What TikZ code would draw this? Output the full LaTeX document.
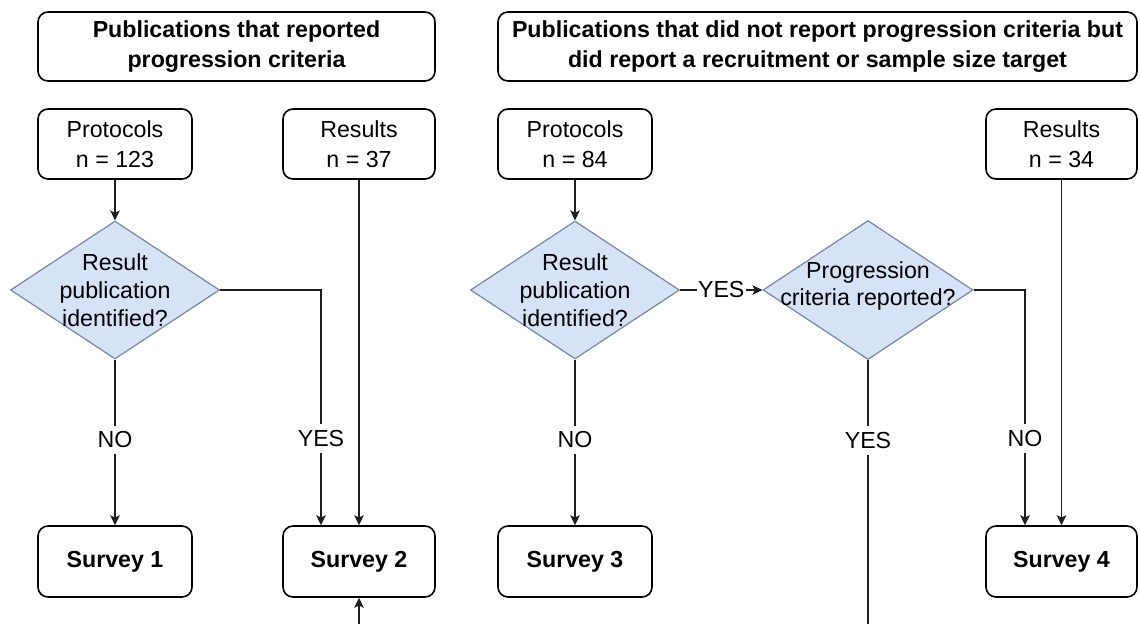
\documentclass[tikz,border=0pt]{standalone}
\usepackage{fontspec}
\setmainfont{Liberation Sans}
\usetikzlibrary{shapes.geometric,arrows.meta,calc}
\definecolor{decfill}{RGB}{214,227,246}
\definecolor{decline}{RGB}{118,136,166}
\definecolor{wire}{RGB}{30,30,30}

\begin{document}
\begin{tikzpicture}[x=0.5pt,y=-0.5pt,
  every node/.style={font=\fontsize{11.6}{14.8}\selectfont},
  box/.style={draw, line width=0.8pt, rounded corners=5pt, align=center,
    inner sep=0pt, minimum height=35pt},
  headbox/.style={box, font=\bfseries\fontsize{11.6}{14.6}\selectfont, minimum height=34.5pt},
  surveybox/.style={box, font=\bfseries\fontsize{11.6}{14}\selectfont, minimum height=35.5pt},
  decision/.style={shape=diamond, draw=decline, fill=decfill, line width=0.6pt,
    inner sep=0pt, minimum width=104.5pt, minimum height=69pt},
  dtext/.style={align=center, inner sep=0pt, font=\fontsize{11.6}{13.9}\selectfont},
  conn/.style={draw=wire, line width=0.65pt},
  arr/.style={conn, -{Stealth[length=5pt, width=4.8pt, inset=1.2pt]}},
  lbl/.style={fill=white, inner xsep=0.6pt, inner ysep=3pt}
]
% page area and white background
\useasboundingbox (0,0) rectangle (1140,623);
\fill[white] (0,0) rectangle (1140,623);
\clip (0,0) rectangle (1140,623);

% section headings
\node[headbox, minimum width=198.5pt] (h1) at (236.5,46.5)
  {Publications that reported\\progression criteria};
\node[headbox, minimum width=319.5pt] (h2) at (817.5,46.5)
  {Publications that did not report progression criteria but\\did report a recruitment or sample size target};

% sources
\node[box, minimum width=77pt] (p1) at (115,144) {Protocols\\n = 123};
\node[box, minimum width=76pt] (r1) at (359,144) {Results\\n = 37};
\node[box, minimum width=77pt] (p2) at (575,144) {Protocols\\n = 84};
\node[box, minimum width=75.5pt] (r2) at (1061.5,144) {Results\\n = 34};

% decisions
\node[decision] (d1) at (115,290) {};
\node[dtext] (d1t) at (d1) {Result\\publication\\identified?};
\node[decision] (d2) at (575,290) {};
\node[dtext] (d2t) at (d2) {Result\\publication\\identified?};
\node[decision, minimum width=105pt, minimum height=69.5pt] (d3) at (868,290) {};
\node[dtext] (d3t) at ($(d3)+(0,-4)$) {Progression\\criteria reported?};

% surveys
\node[surveybox, minimum width=77pt] (s1) at (115,561.5) {Survey 1};
\node[surveybox, minimum width=76pt] (s2) at (359,561.5) {Survey 2};
\node[surveybox, minimum width=77pt] (s3) at (575,561.5) {Survey 3};
\node[surveybox, minimum width=75.5pt] (s4) at (1061.5,561.5) {Survey 4};

% entry points on the survey boxes and the run below the picture
\coordinate (s2yes) at ($(s2.north)+(-38,0)$);
\coordinate (s4no) at ($(s4.north)+(-36.5,0)$);
\coordinate (low) at (0,650);

% left section
\draw[arr] (p1.south) -- (d1.north);
\draw[arr] (d1.south) -- node[lbl, pos=0.485] {NO} (s1.north);
\draw[arr] (d1.east) -| node[lbl, pos=0.816] {YES} (s2yes);
\draw[arr] (r1.south) -- (s2.north);

% right section
\draw[arr] (p2.south) -- (d2.north);
\draw[arr] (d2.south) -- node[lbl, pos=0.485] {NO} (s3.north);
\draw[arr] (d2.east) -- node[lbl] {YES} (d3.west);
\draw[arr] (d3.east) -| node[lbl, pos=0.816] {NO} (s4no);
\draw[arr] (r2.south) -- (s4.north);
\draw[arr] (d3.south) -- node[lbl, pos=0.278] {YES} (d3.south |- low) -| (s2.south);
\end{tikzpicture}
\end{document}
